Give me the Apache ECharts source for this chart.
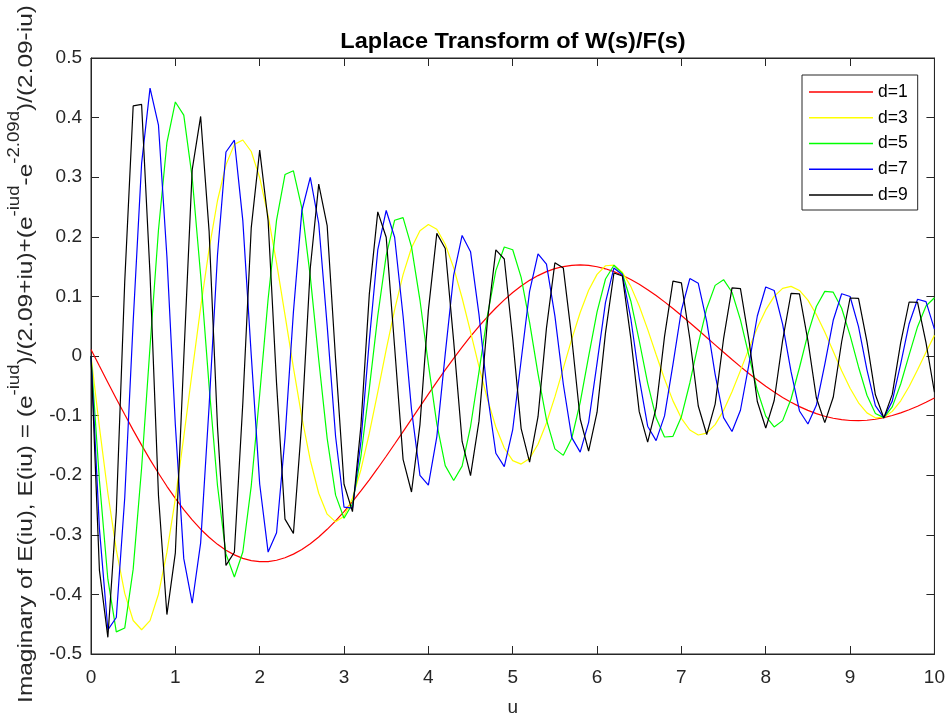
<!DOCTYPE html>
<html>
<head>
<meta charset="utf-8">
<title>Laplace Transform of W(s)/F(s)</title>
<script src="https://cdn.jsdelivr.net/npm/echarts@6/dist/echarts.min.js"></script>
<style>
  html, body { margin: 0; padding: 0; background: #fff; }
  #chart { width: 948px; height: 722px; }
</style>
</head>
<body>
<div id="chart"></div>
<script>
// u sample points
const uValues = [
  0, 0.1, 0.2, 0.3, 0.4, 0.5, 0.6, 0.7, 0.8, 0.9,
  1, 1.1, 1.2, 1.3, 1.4, 1.5, 1.6, 1.7, 1.8, 1.9,
  2, 2.1, 2.2, 2.3, 2.4, 2.5, 2.6, 2.7, 2.8, 2.9,
  3, 3.1, 3.2, 3.3, 3.4, 3.5, 3.6, 3.7, 3.8, 3.9,
  4, 4.1, 4.2, 4.3, 4.4, 4.5, 4.6, 4.7, 4.8, 4.9,
  5, 5.1, 5.2, 5.3, 5.4, 5.5, 5.6, 5.7, 5.8, 5.9,
  6, 6.1, 6.2, 6.3, 6.4, 6.5, 6.6, 6.7, 6.8, 6.9,
  7, 7.1, 7.2, 7.3, 7.4, 7.5, 7.6, 7.7, 7.8, 7.9,
  8, 8.1, 8.2, 8.3, 8.4, 8.5, 8.6, 8.7, 8.8, 8.9,
  9, 9.1, 9.2, 9.3, 9.4, 9.5, 9.6, 9.7, 9.8, 9.9,
  10
];

// Imaginary part, one array per d
const imagD1 = [
  0.011, -0.0168, -0.0443, -0.0716, -0.0983, -0.1244, -0.1496, -0.1738, -0.1968, -0.2186,
  -0.239, -0.2579, -0.2751, -0.2906, -0.3042, -0.316, -0.3259, -0.3337, -0.3395, -0.3434,
  -0.3451, -0.3449, -0.3427, -0.3385, -0.3324, -0.3246, -0.3149, -0.3037, -0.2908, -0.2766,
  -0.261, -0.2442, -0.2264, -0.2077, -0.1883, -0.1682, -0.1476, -0.1268, -0.1058, -0.0848,
  -0.064, -0.0435, -0.0234, -0.0039, 0.0149, 0.0329, 0.0499, 0.0658, 0.0806, 0.0942,
  0.1065, 0.1174, 0.1269, 0.1349, 0.1415, 0.1465, 0.1501, 0.1522, 0.1528, 0.152,
  0.1498, 0.1463, 0.1415, 0.1355, 0.1284, 0.1203, 0.1112, 0.1014, 0.0908, 0.0796,
  0.0679, 0.0559, 0.0436, 0.0311, 0.0186, 0.0062, -0.006, -0.0178, -0.0294, -0.0403,
  -0.0507, -0.0605, -0.0695, -0.0776, -0.0849, -0.0913, -0.0967, -0.1011, -0.1045, -0.1069,
  -0.1082, -0.1085, -0.1078, -0.1061, -0.1034, -0.0999, -0.0955, -0.0902, -0.0843, -0.0776,
  -0.0704
];

const imagD3 = [
  0, -0.1193, -0.2303, -0.3254, -0.3982, -0.4438, -0.4593, -0.4441, -0.3997, -0.3296,
  -0.2394, -0.1356, -0.026, 0.0815, 0.1794, 0.2609, 0.3207, 0.3551, 0.3624, 0.3431,
  0.2993, 0.2352, 0.1563, 0.0691, -0.0196, -0.103, -0.1749, -0.2303, -0.2654, -0.2783,
  -0.2689, -0.2387, -0.1908, -0.1296, -0.0606, 0.0105, 0.0779, 0.1365, 0.1817, 0.2103,
  0.2208, 0.2128, 0.1875, 0.1478, 0.0973, 0.0405, -0.0177, -0.0723, -0.1191, -0.1544,
  -0.1756, -0.1814, -0.1718, -0.148, -0.1125, -0.0686, -0.0203, 0.0283, 0.073, 0.1103,
  0.137, 0.1514, 0.1524, 0.1404, 0.1168, 0.0838, 0.0446, 0.0026, -0.0386, -0.0753,
  -0.1046, -0.1242, -0.1326, -0.1294, -0.1151, -0.0913, -0.0601, -0.0245, 0.0124, 0.0473,
  0.0773, 0.1, 0.1135, 0.1168, 0.11, 0.0937, 0.0697, 0.0402, 0.0078, -0.0246,
  -0.0542, -0.0785, -0.0954, -0.1037, -0.1028, -0.0929, -0.0752, -0.0512, -0.0232, 0.0062,
  0.0346
];

const imagD5 = [
  0, -0.2088, -0.3745, -0.4629, -0.4565, -0.3576, -0.188, 0.016, 0.2114, 0.3579,
  0.4262, 0.4041, 0.2989, 0.1354, -0.0502, -0.2177, -0.3321, -0.3709, -0.3288, -0.2178,
  -0.0647, 0.0957, 0.228, 0.3045, 0.3107, 0.248, 0.1331, -0.0063, -0.1382, -0.2335,
  -0.2722, -0.2479, -0.1686, -0.0544, 0.0674, 0.1689, 0.2278, 0.2321, 0.1831, 0.0939,
  -0.0135, -0.1138, -0.184, -0.209, -0.1847, -0.1183, -0.0267, 0.0679, 0.1433, 0.1828,
  0.1782, 0.132, 0.0564, -0.0301, -0.1067, -0.1558, -0.1667, -0.138, -0.0777, -0.0008,
  0.0741, 0.1292, 0.1522, 0.1385, 0.0923, 0.0256, -0.0454, -0.1038, -0.1359, -0.1348,
  -0.1018, -0.0453, 0.0205, 0.0798, 0.1185, 0.1281, 0.1069, 0.0607, 0.001, -0.0575,
  -0.1008, -0.1191, -0.1084, -0.0721, -0.0193, 0.037, 0.0831, 0.1084, 0.1071, 0.0802,
  0.0346, -0.0184, -0.0659, -0.0965, -0.1034, -0.0853, -0.047, 0.0018, 0.0492, 0.0839,
  0.0977
];

const imagD7 = [
  0, -0.2901, -0.4595, -0.4387, -0.2379, 0.0574, 0.3231, 0.4495, 0.3873, 0.167,
  -0.1153, -0.34, -0.4148, -0.3135, -0.0848, 0.17, 0.3423, 0.3621, 0.2272, 0.0015,
  -0.2147, -0.329, -0.2965, -0.1374, 0.074, 0.2437, 0.2997, 0.2223, 0.051, -0.1351,
  -0.2537, -0.2554, -0.1441, 0.0262, 0.1779, 0.2442, 0.1992, 0.0672, -0.0897, -0.2002,
  -0.2168, -0.1356, 0.0035, 0.1359, 0.2023, 0.175, 0.0699, -0.0633, -0.1632, -0.1857,
  -0.1234, -0.0072, 0.1085, 0.1712, 0.154, 0.0673, -0.0474, -0.1369, -0.1613, -0.1113,
  -0.012, 0.0899, 0.1478, 0.1364, 0.0629, -0.0374, -0.1178, -0.142, -0.1005, -0.0139,
  0.0768, 0.1299, 0.122, 0.0582, -0.0308, -0.1034, -0.1266, -0.091, -0.0143, 0.0671,
  0.1158, 0.1099, 0.0535, -0.0263, -0.0922, -0.1141, -0.0828, -0.014, 0.0599, 0.1045,
  0.0998, 0.0492, -0.0232, -0.0834, -0.1037, -0.0757, -0.0132, 0.0542, 0.0952, 0.0913,
  0.0452
];

const imagD9 = [
  0, -0.3598, -0.472, -0.2612, 0.125, 0.4196, 0.4221, 0.1368, -0.234, -0.4338,
  -0.3302, -0.0039, 0.3128, 0.4019, 0.21, -0.119, -0.3513, -0.3292, -0.0788, 0.2155,
  0.3454, 0.2269, -0.0458, -0.2737, -0.2977, -0.1097, 0.1477, 0.2883, 0.2189, -0.0059,
  -0.2151, -0.2611, -0.1177, 0.1043, 0.2418, 0.1993, 0.0146, -0.1733, -0.2282, -0.1155,
  0.0766, 0.2057, 0.1803, 0.0245, -0.1434, -0.2007, -0.1093, 0.0587, 0.178, 0.1628,
  0.0289, -0.1218, -0.1781, -0.1019, 0.0468, 0.1564, 0.1475, 0.0303, -0.1057, -0.1597,
  -0.0943, 0.0387, 0.1393, 0.1342, 0.0301, -0.0934, -0.1444, -0.0872, 0.033, 0.1256,
  0.1228, 0.029, -0.0839, -0.1317, -0.0807, 0.029, 0.1144, 0.1129, 0.0275, -0.0763,
  -0.1209, -0.0747, 0.026, 0.1051, 0.1043, 0.0258, -0.0701, -0.1118, -0.0693, 0.0239,
  0.0973, 0.0967, 0.0241, -0.0651, -0.1039, -0.0644, 0.0223, 0.0906, 0.0901, 0.0225,
  -0.0608
];

const seriesNames = ['d=1', 'd=3', 'd=5', 'd=7', 'd=9'];
const seriesColors = ['#ff0000', '#ffff00', '#00ff00', '#0000ff', '#000000'];
const seriesValues = [imagD1, imagD3, imagD5, imagD7, imagD9];

const font = '"Liberation Sans", Arial, Helvetica, sans-serif';
const axisColor = '#262626';

const myChart = echarts.init(document.getElementById('chart'));

function xAxisOf(pos) {
  return {
    type: 'value',
    position: pos,
    min: 0,
    max: 10,
    interval: 1,
    axisLine: { onZero: false, lineStyle: { color: axisColor, width: 1 } },
    axisTick: { inside: true, length: 8, lineStyle: { color: axisColor } },
    axisLabel: {
      show: pos === 'bottom',
      color: axisColor,
      fontSize: 19,
      fontFamily: font,
      margin: 14
    },
    splitLine: { show: false }
  };
}

function yAxisOf(pos) {
  return {
    type: 'value',
    position: pos,
    min: -0.5,
    max: 0.5,
    interval: 0.1,
    axisLine: { onZero: false, lineStyle: { color: axisColor, width: 1 } },
    axisTick: { inside: true, length: 8, lineStyle: { color: axisColor } },
    axisLabel: {
      show: pos === 'left',
      color: axisColor,
      fontSize: 19,
      fontFamily: font,
      margin: 9
    },
    splitLine: { show: false }
  };
}

const xBottom = xAxisOf('bottom');
xBottom.name = 'u';
xBottom.nameLocation = 'middle';
xBottom.nameGap = 44;
xBottom.nameTextStyle = { color: axisColor, fontSize: 19, fontFamily: font };

const option = {
  animation: false,
  backgroundColor: '#ffffff',
  grid: {
    left: 91,
    right: 13,
    top: 58,
    bottom: 67,
    show: true,
    borderColor: axisColor,
    borderWidth: 1
  },
  legend: {
    data: seriesNames,
    orient: 'vertical',
    left: 802,
    top: 75,
    padding: [7, 10, 5, 7],
    icon: 'rect',
    itemWidth: 64,
    itemHeight: 1.5,
    itemGap: 5.75,
    backgroundColor: '#ffffff',
    borderColor: axisColor,
    borderWidth: 1,
    borderRadius: 0,
    textStyle: { color: '#000', fontSize: 17.5, lineHeight: 20, fontFamily: font }
  },
  xAxis: [xBottom, xAxisOf('top')],
  yAxis: [yAxisOf('left'), yAxisOf('right')],
  graphic: [
    {
      type: 'text',
      x: 513,
      y: 42,
      scaleX: 1.07,
      style: {
        text: 'Laplace Transform of W(s)/F(s)',
        font: 'bold 22px ' + font,
        fill: '#000',
        textAlign: 'center',
        textVerticalAlign: 'middle'
      }
    },
    {
      type: 'text',
      x: 22,
      y: 354,
      rotation: Math.PI / 2,
      scaleX: 1.163,
      style: {
        text: '{n|Imaginary of E(iu), E(iu) = (e}{s|-iud}{n|)/(2.09+iu)+(e}{s|-iud}{n|-e}{s|-2.09d}{n|)/(2.09-iu)}',
        textAlign: 'center',
        textVerticalAlign: 'middle',
        rich: {
          n: { fontSize: 21, fontFamily: font, fill: axisColor, verticalAlign: 'bottom', lineHeight: 30 },
          s: { fontSize: 16, fontFamily: font, fill: axisColor, verticalAlign: 'top', lineHeight: 16 }
        }
      }
    }
  ],
  series: seriesValues.map(function (vals, i) {
    return {
      name: seriesNames[i],
      type: 'line',
      xAxisIndex: 0,
      yAxisIndex: 0,
      symbol: 'none',
      data: uValues.map(function (u, k) { return [u, vals[k]]; }),
      lineStyle: { color: seriesColors[i], width: 1.2 },
      itemStyle: { color: seriesColors[i] }
    };
  })
};

myChart.setOption(option);
</script>
</body>
</html>
